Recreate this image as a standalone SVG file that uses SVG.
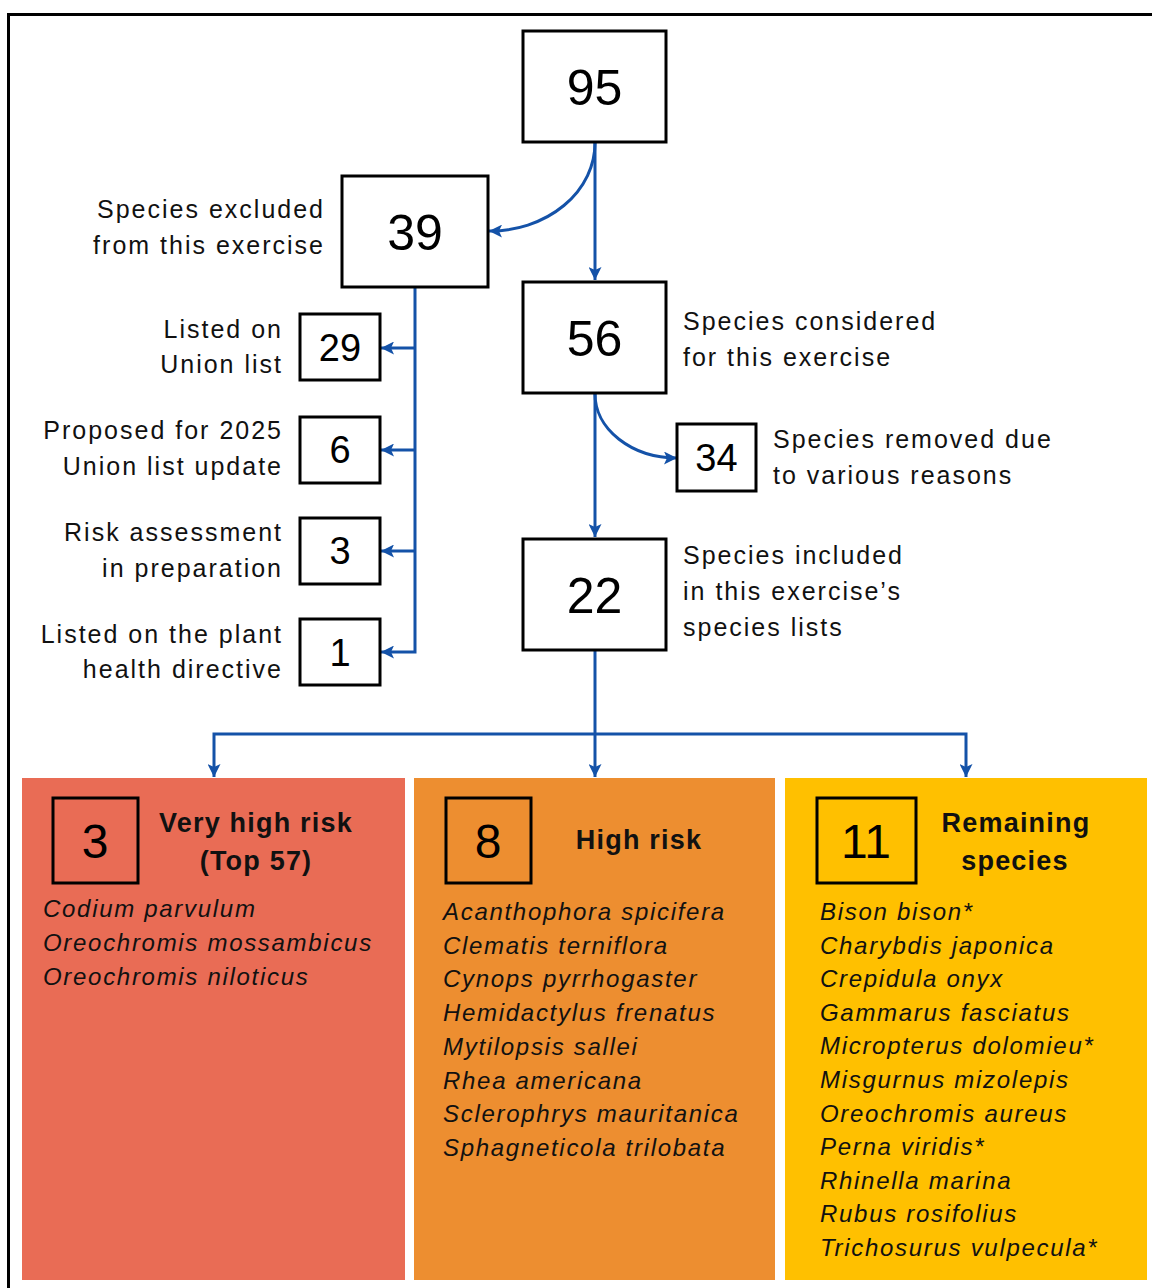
<svg xmlns="http://www.w3.org/2000/svg" width="1152" height="1288" viewBox="0 0 1152 1288">
  <style>
    .box { fill: #ffffff; stroke: #000000; stroke-width: 3; }
    .ibox { fill: none; stroke: #000000; stroke-width: 3; }
    .big { font-family: "Liberation Sans", Arial, sans-serif; font-size: 50px; fill: #000; text-anchor: middle; }
    .mid { font-family: "Liberation Sans", Arial, sans-serif; font-size: 38px; fill: #000; text-anchor: middle; }
    .pnum { font-family: "Liberation Sans", Arial, sans-serif; font-size: 48px; fill: #000; text-anchor: middle; }
    .lbl { font-family: "Liberation Sans", Arial, sans-serif; font-size: 25px; letter-spacing: 2px; fill: #111; }
    .end { text-anchor: end; }
    .ttl { font-family: "Liberation Sans", Arial, sans-serif; font-size: 27px; font-weight: bold; letter-spacing: 1.2px; fill: #111; text-anchor: middle; }
    .sp { font-family: "Liberation Sans", Arial, sans-serif; font-size: 24px; font-style: italic; letter-spacing: 1.7px; fill: #111; }
    .link { fill: none; stroke: #1452A8; stroke-width: 3; }
  </style>
  <defs>
    <marker id="arrow" viewBox="0 0 13 13" refX="13" refY="6.5" markerWidth="13" markerHeight="13" markerUnits="userSpaceOnUse" orient="auto">
      <path d="M0,0 L13,6.5 L0,13 L3,6.5 Z" fill="#1452A8"/>
    </marker>
  </defs>

  <rect width="1152" height="1288" fill="#ffffff"/>
  <!-- outer frame, open towards the right and bottom edges -->
  <rect x="8.5" y="14.5" width="1170" height="1300" fill="none" stroke="#000" stroke-width="3"/>

  <!-- category panels -->
  <g id="panel-very-high">
    <rect x="22" y="778" width="383" height="502" fill="#E96C55"/>
    <rect class="ibox" x="53" y="798" width="85" height="85"/>
    <text class="pnum" x="95" y="858">3</text>
    <text class="ttl" x="256" y="832">Very high risk</text>
    <text class="ttl" x="256" y="870">(Top 57)</text>
    <text class="sp" x="43" y="917">Codium parvulum</text>
    <text class="sp" x="43" y="951">Oreochromis mossambicus</text>
    <text class="sp" x="43" y="985">Oreochromis niloticus</text>
  </g>
  <g id="panel-high">
    <rect x="414" y="778" width="361" height="502" fill="#ED8E30"/>
    <rect class="ibox" x="446" y="798" width="85" height="85"/>
    <text class="pnum" x="488" y="858">8</text>
    <text class="ttl" x="639" y="849">High risk</text>
    <text class="sp" x="443" y="920">Acanthophora spicifera</text>
    <text class="sp" x="443" y="953.7">Clematis terniflora</text>
    <text class="sp" x="443" y="987.4">Cynops pyrrhogaster</text>
    <text class="sp" x="443" y="1021.1">Hemidactylus frenatus</text>
    <text class="sp" x="443" y="1054.8">Mytilopsis sallei</text>
    <text class="sp" x="443" y="1088.5">Rhea americana</text>
    <text class="sp" x="443" y="1122.2">Sclerophrys mauritanica</text>
    <text class="sp" x="443" y="1155.9">Sphagneticola trilobata</text>
  </g>
  <g id="panel-remaining">
    <rect x="785" y="778" width="362" height="502" fill="#FFC000"/>
    <rect class="ibox" x="817" y="798" width="99" height="85"/>
    <text class="pnum" x="866" y="858">11</text>
    <text class="ttl" x="1016" y="832">Remaining</text>
    <text class="ttl" x="1015" y="870">species</text>
    <text class="sp" x="820" y="920">Bison bison*</text>
    <text class="sp" x="820" y="953.6">Charybdis japonica</text>
    <text class="sp" x="820" y="987.2">Crepidula onyx</text>
    <text class="sp" x="820" y="1020.8">Gammarus fasciatus</text>
    <text class="sp" x="820" y="1054.4">Micropterus dolomieu*</text>
    <text class="sp" x="820" y="1088">Misgurnus mizolepis</text>
    <text class="sp" x="820" y="1121.6">Oreochromis aureus</text>
    <text class="sp" x="820" y="1155.2">Perna viridis*</text>
    <text class="sp" x="820" y="1188.8">Rhinella marina</text>
    <text class="sp" x="820" y="1222.4">Rubus rosifolius</text>
    <text class="sp" x="820" y="1256">Trichosurus vulpecula*</text>
  </g>

  <!-- connectors -->
  <g id="connectors">
    <path class="link" d="M595,143 V280" marker-end="url(#arrow)"/>
    <path class="link" d="M595,143 A105,88 0 0 1 489,231" marker-end="url(#arrow)"/>
    <path class="link" d="M415,288 V652 H381" marker-end="url(#arrow)"/>
    <path class="link" d="M415,348 H381" marker-end="url(#arrow)"/>
    <path class="link" d="M415,450 H381" marker-end="url(#arrow)"/>
    <path class="link" d="M415,551 H381" marker-end="url(#arrow)"/>
    <path class="link" d="M595,394 V537" marker-end="url(#arrow)"/>
    <path class="link" d="M595,394 A82,64 0 0 0 677,458" marker-end="url(#arrow)"/>
    <path class="link" d="M595,651 V777" marker-end="url(#arrow)"/>
    <path class="link" d="M595,734 H214 V777" marker-end="url(#arrow)"/>
    <path class="link" d="M595,734 H966 V777" marker-end="url(#arrow)"/>
  </g>

  <!-- count nodes -->
  <g id="n95">
    <rect class="box" x="523" y="31" width="143" height="111"/>
    <text class="big" x="594.5" y="104.5">95</text>
  </g>
  <g id="n39">
    <rect class="box" x="342" y="176" width="146" height="111"/>
    <text class="big" x="415" y="249.5">39</text>
    <text class="lbl end" x="325" y="218">Species excluded</text>
    <text class="lbl end" x="325" y="254">from this exercise</text>
  </g>
  <g id="n56">
    <rect class="box" x="523" y="282" width="143" height="111"/>
    <text class="big" x="594.5" y="355.5">56</text>
    <text class="lbl" x="683" y="330">Species considered</text>
    <text class="lbl" x="683" y="366">for this exercise</text>
  </g>
  <g id="n34">
    <rect class="box" x="677" y="424" width="79" height="67"/>
    <text class="mid" x="716.5" y="471">34</text>
    <text class="lbl" x="773" y="448">Species removed due</text>
    <text class="lbl" x="773" y="484">to various reasons</text>
  </g>
  <g id="n22">
    <rect class="box" x="523" y="539" width="143" height="111"/>
    <text class="big" x="594.5" y="612.5">22</text>
    <text class="lbl" x="683" y="564">Species included</text>
    <text class="lbl" x="683" y="600">in this exercise’s</text>
    <text class="lbl" x="683" y="636">species lists</text>
  </g>
  <g id="n29">
    <rect class="box" x="300" y="314" width="80" height="66"/>
    <text class="mid" x="340" y="361">29</text>
    <text class="lbl end" x="283" y="338">Listed on</text>
    <text class="lbl end" x="283" y="373">Union list</text>
  </g>
  <g id="n6">
    <rect class="box" x="300" y="417" width="80" height="66"/>
    <text class="mid" x="340" y="463">6</text>
    <text class="lbl end" x="283" y="439">Proposed for 2025</text>
    <text class="lbl end" x="283" y="475">Union list update</text>
  </g>
  <g id="n3">
    <rect class="box" x="300" y="518" width="80" height="66"/>
    <text class="mid" x="340" y="564">3</text>
    <text class="lbl end" x="283" y="541">Risk assessment</text>
    <text class="lbl end" x="283" y="577">in preparation</text>
  </g>
  <g id="n1">
    <rect class="box" x="300" y="619" width="80" height="66"/>
    <text class="mid" x="340" y="666">1</text>
    <text class="lbl end" x="283" y="643">Listed on the plant</text>
    <text class="lbl end" x="283" y="678">health directive</text>
  </g>
</svg>
